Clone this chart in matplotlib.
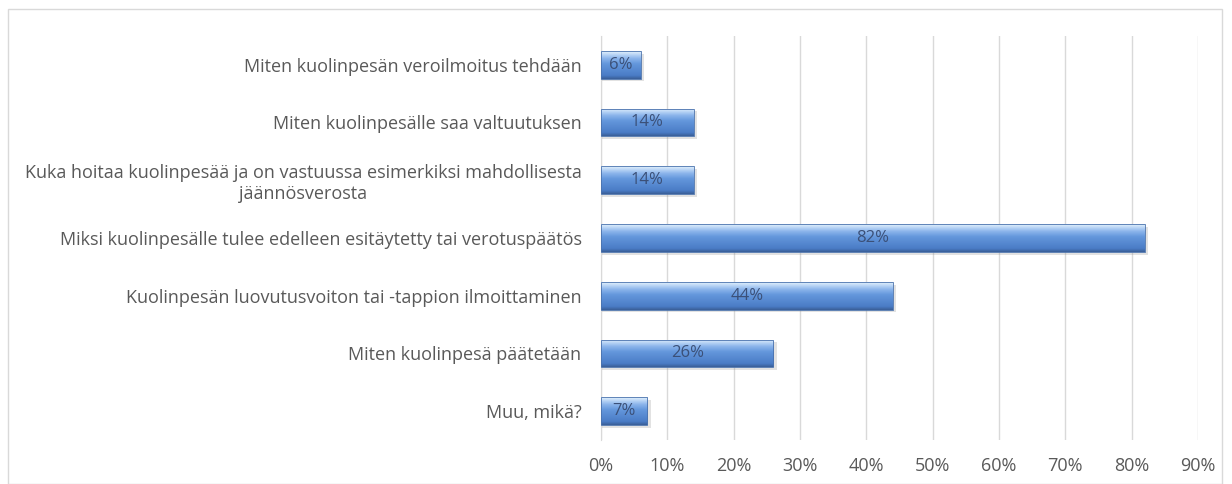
import numpy as np
import matplotlib.pyplot as plt
from matplotlib.patches import Rectangle
from matplotlib.colors import LinearSegmentedColormap

plt.rcParams['font.family'] = ['Open Sans', 'DejaVu Sans']

# categories top to bottom
categories = [
    'Miten kuolinpesän veroilmoitus tehdään',
    'Miten kuolinpesälle saa valtuutuksen',
    'Kuka hoitaa kuolinpesää ja on vastuussa esimerkiksi mahdollisesta\njäännösverosta',
    'Miksi kuolinpesälle tulee edelleen esitäytetty tai verotuspäätös',
    'Kuolinpesän luovutusvoiton tai -tappion ilmoittaminen',
    'Miten kuolinpesä päätetään',
    'Muu, mikä?',
]
values = [6, 14, 14, 82, 44, 26, 7]
xticks = [0, 10, 20, 30, 40, 50, 60, 70, 80, 90]

fig = plt.figure(figsize=(12.32, 4.84), dpi=100)
ax = fig.add_axes([0.4878, 0.0909, 0.9724 - 0.4878, 0.926 - 0.0909])

# outer frame of the chart area
fig.patches.append(Rectangle((0.0065, 0.0), 0.9855, 0.981, transform=fig.transFigure,
                             fill=False, edgecolor='#d9d9d9', linewidth=1.0))

# glossy bar fill: dark bottom edge, mid blue body, pale top
grad_cmap = LinearSegmentedColormap.from_list(
    'bargrad', [(0.0, '#3a5f98'), (0.12, '#4a7cc6'), (0.55, '#6497dc'),
                (0.75, '#8db6ec'), (1.0, '#e2f1fd')])
grad = np.linspace(0, 1, 64).reshape(-1, 1)

ypos = np.arange(len(categories))[::-1]
h = 0.48
for y, v in zip(ypos, values):
    # soft shadow below the bar
    ax.add_patch(Rectangle((0.2, y - h / 2 - 0.05), v + 0.3, h, facecolor='#7f7f7f',
                           alpha=0.22, edgecolor='none', zorder=2))
    im = ax.imshow(grad, cmap=grad_cmap, aspect='auto', origin='lower',
                   extent=(0, v, y - h / 2, y + h / 2), zorder=3)
    edge = Rectangle((0, y - h / 2), v, h, facecolor='none',
                     edgecolor='#4a72ad', linewidth=0.6, zorder=4)
    ax.add_patch(edge)
    im.set_clip_path(edge)
    ax.text(v / 2, y, '%d%%' % v, ha='center', va='center', fontsize=12,
            color='#3b5078', zorder=5)

ax.set_xlim(0, 90)
ax.set_ylim(-0.5, len(categories) - 0.5)
ax.set_xticks(xticks)
ax.set_xticklabels(['%d%%' % t for t in xticks])
ax.set_yticks(ypos)
ax.set_yticklabels(categories, multialignment='center')
ax.tick_params(axis='both', length=0, labelsize=13, colors='#595959')
ax.tick_params(axis='y', pad=14)
ax.tick_params(axis='x', pad=12)
ax.grid(axis='x', color='#d9d9d9', linewidth=1.0, zorder=0)
ax.set_axisbelow(True)
for s in ['top', 'right', 'bottom']:
    ax.spines[s].set_visible(False)
ax.spines['left'].set_color('#d9d9d9')

fig.savefig('out.png', dpi=100)
